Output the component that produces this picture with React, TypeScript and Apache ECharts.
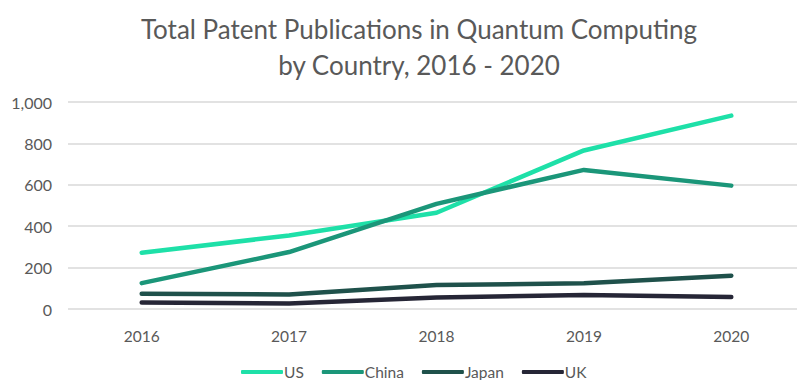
import React, { useEffect, useRef } from "react";
import * as echarts from "echarts";

const years = ["2016", "2017", "2018", "2019", "2020"];
const usValues = [272, 355, 465, 766, 934];
const chinaValues = [125, 275, 508, 672, 596];
const japanValues = [74, 70, 116, 124, 161];
const ukValues = [31, 27, 55, 68, 58];
const seriesNames = ["US", "China", "Japan", "UK"];
const seriesColors = ["#1ee0a8", "#1b9679", "#1f514b", "#262636"];

export default function App() {
  const ref = useRef<HTMLDivElement>(null);
  useEffect(() => {
    if (!ref.current) return;
    const chart = echarts.init(ref.current, null, { renderer: "svg" });
    const data = [usValues, chinaValues, japanValues, ukValues];
    chart.setOption({
      animation: false,
      textStyle: { fontFamily: "Lato" },
      title: {
        text: "Total Patent Publications in Quantum Computing\nby Country, 2016 - 2020",
        left: 414,
        top: 6,
        textAlign: "center",
        textStyle: {
          fontFamily: "Lato",
          fontSize: 26,
          fontWeight: "normal",
          color: "#595959",
          lineHeight: 36,
        },
      },
      legend: {
        bottom: 3,
        left: 236,
        itemWidth: 42,
        itemHeight: 4,
        itemGap: 18,
        icon: "roundRect",
        textStyle: { fontSize: 15.5, color: "#595959", padding: [0, 0, 0, -4] },
        data: seriesNames,
      },
      grid: { left: 68, right: -3, top: 102, bottom: 79 },
      xAxis: {
        type: "category",
        data: years,
        boundaryGap: true,
        axisLine: { show: false },
        axisTick: { show: false },
        axisLabel: { fontSize: 15.5, color: "#595959", margin: 19 },
      },
      yAxis: {
        type: "value",
        min: 0,
        max: 1000,
        interval: 200,
        axisLine: { show: false },
        axisTick: { show: false },
        axisLabel: {
          fontSize: 16,
          color: "#595959",
          margin: 16,
          formatter: (v: number) => v.toLocaleString("en-US"),
        },
        splitLine: { lineStyle: { color: "#d9d9d9", width: 1.5 } },
      },
      series: seriesNames.map((name, i) => ({
        name,
        type: "line",
        data: data[i],
        symbol: "none",
        color: seriesColors[i],
        lineStyle: { width: 4.5, color: seriesColors[i], cap: "round", join: "round" },
      })),
    });
    return () => chart.dispose();
  }, []);
  return <div ref={ref} style={{ width: 805, height: 388, margin: -8 }} />;
}
